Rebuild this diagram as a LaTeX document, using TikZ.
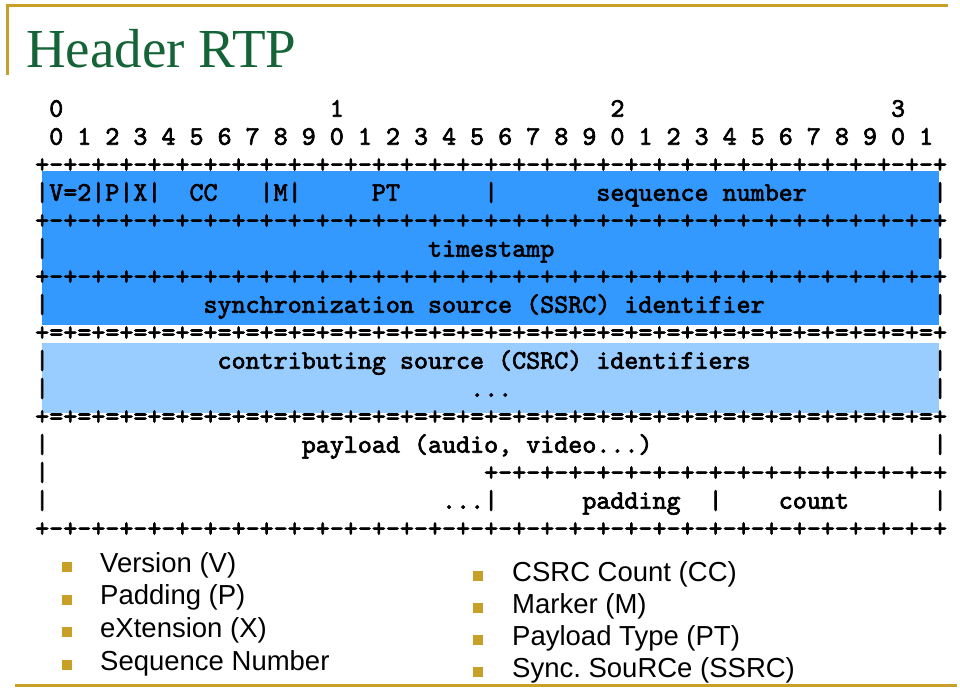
\documentclass[tikz,border=0pt]{standalone}
\usepackage{fontspec}
\newfontfamily\asciifont{lmmono10-regular.otf}[FakeBold=2.5]
\newfontfamily\itemfont{Liberation Sans}
\newfontfamily\titlefont{Liberation Serif}
\frenchspacing
\definecolor{framegold}{RGB}{200,160,40}
\definecolor{titlegreen}{RGB}{20,100,55}
\definecolor{hdrblue}{RGB}{51,153,255}
\definecolor{csrcblue}{RGB}{153,204,255}
% one octet of the ASCII rule lines
\newcommand{\dashoct}{+-+-+-+-+-+-+-+-}
\newcommand{\eqoct}{+=+=+=+=+=+=+=+=}
\tikzset{
  ascii/.style={font=\asciifont\fontsize{26.72}{28}\selectfont, anchor=base west, inner sep=0pt},
  item/.style={font=\itemfont\fontsize{27.5}{33}\selectfont, anchor=base west, inner sep=0pt},
  bullet/.style={fill=framegold, minimum size=10pt, inner sep=0pt, anchor=south west},
}
\begin{document}
\begin{tikzpicture}[x=1pt, y=-1pt]
  \useasboundingbox (0,0) rectangle (960,692);
  % Slide frame and title
  \draw[framegold, line width=3pt] (7,75) -- (7,6) -- (948,6);
  \draw[framegold, line width=3pt] (15,685) -- (957,685);
  \node[font=\titlefont\fontsize{55}{60}\selectfont, text=titlegreen, anchor=base west, inner sep=0pt] (title) at (26,68) {Header RTP};
  % Field backgrounds
  \fill[hdrblue] (42,171) rectangle (939,325);
  \fill[csrcblue] (42,343) rectangle (939,413);
  % Header layout: one unit per character column / text row
  \begin{scope}[shift={(35,116.7)}, x=14.03pt, y=-28pt]
    \foreach \d in {0,...,3}
      \node[ascii] (tens\d) at ({1+20*\d},0) {\d};
    \foreach \b in {0,...,31} {
      \pgfmathtruncatemacro{\u}{mod(\b,10)}
      \node[ascii] (bit\b) at ({1+2*\b},1) {\u};
    }
    % rule lines
    \foreach \r in {2,4,6,15}
      \node[ascii] (rule\r) at (0,\r) {\dashoct\dashoct\dashoct\dashoct+};
    \foreach \r in {8,11}
      \node[ascii] (rule\r) at (0,\r) {\eqoct\eqoct\eqoct\eqoct+};
    \node[ascii] (rule13) at (32,13) {\dashoct\dashoct+};
    % fields
    \foreach \c/\r/\t in {0/3/{|V=2|P|X|}, 11/3/CC, 16/3/{|M|}, 24/3/PT, 32/3/{|}, 40/3/{sequence number}, 64/3/{|},
        0/5/{|}, 28/5/timestamp, 64/5/{|},
        0/7/{|}, 12/7/{synchronization source (SSRC) identifier}, 64/7/{|},
        0/9/{|}, 13/9/{contributing source (CSRC) identifiers}, 64/9/{|},
        0/10/{|}, 31/10/{...}, 64/10/{|},
        0/12/{|}, 19/12/{payload (audio, video...)}, 64/12/{|},
        0/13/{|},
        0/14/{|}, 29/14/{...|}, 39/14/padding, 48/14/{|}, 53/14/count, 64/14/{|}}
      \node[ascii] (fld\r-\c) at (\c,\r) {\t};
  \end{scope}
  % Field legend
  \foreach \t [count=\k] in {Version (V), Padding (P), eXtension (X), Sequence Number} {
    \node[bullet] (lb\k) at (62,{539.5+32.7*\k}) {};
    \node[item] (left\k) at (100,{539.5+32.7*\k}) {\t};
  }
  \foreach \t [count=\k] in {CSRC Count (CC), Marker (M), Payload Type (PT), Sync. SouRCe (SSRC)} {
    \node[bullet] (rb\k) at (473,{549+32*\k}) {};
    \node[item] (right\k) at (512,{549+32*\k}) {\t};
  }
\end{tikzpicture}
\end{document}
